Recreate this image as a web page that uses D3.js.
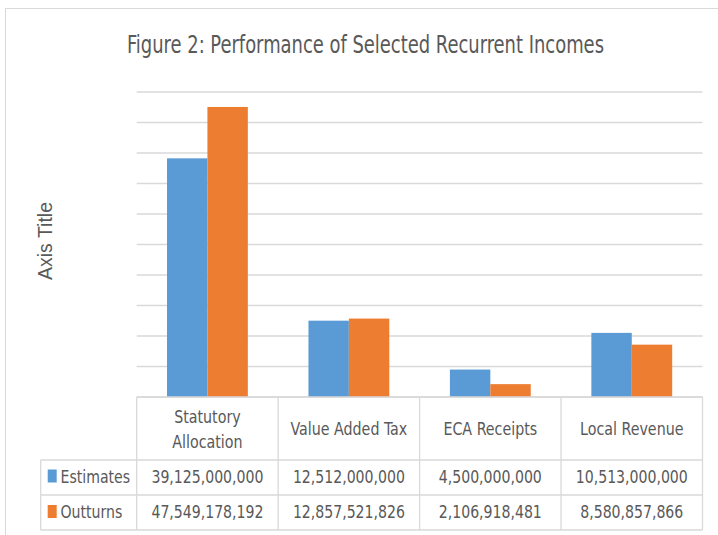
<!DOCTYPE html>
<html>

<head>
    <title>Figure 2</title>
    <script src="https://cdn.jsdelivr.net/npm/d3@7"></script>
    <style>
        body { margin: 0; background: white; }
        text { font-family: "DejaVu Sans Condensed", "DejaVu Sans", sans-serif; fill: #595959; }
    </style>
</head>

<body>
    <svg width="718" height="535" id="mainsvg"></svg>
    <script>
        const categories = ['Statutory Allocation', 'Value Added Tax', 'ECA Receipts', 'Local Revenue'];
        const series = ['Estimates', 'Outturns'];
        const estimates = [39125000000, 12512000000, 4500000000, 10513000000];
        const outturns = [47549178192, 12857521826, 2106918481, 8580857866];
        const yTicks = [0, 5e9, 10e9, 15e9, 20e9, 25e9, 30e9, 35e9, 40e9, 45e9, 50e9];

        const svg = d3.select('svg');
        const colors = d3.scaleOrdinal().domain(series).range(['#5b9bd5', '#ed7d31']);
        const values = { Estimates: estimates, Outturns: outturns };
        const fmt = d3.format(',');

        const plotLeft = 136.7, plotRight = 702.5, plotTop = 92, plotBase = 397;
        const rowLines = [397, 460, 495, 530];
        const legendLeft = 40.7;

        // squeeze text horizontally, the original font is a narrow one
        const condense = k => sel => sel.each(function () {
            this.setAttribute('textLength', this.getComputedTextLength() * k);
            this.setAttribute('lengthAdjust', 'spacingAndGlyphs');
        });

        // outer chart border
        svg.append('rect').attr('x', 5.5).attr('y', 8.5).attr('width', 730).attr('height', 540)
            .attr('fill', 'white').attr('stroke', '#d9d9d9');

        const x = d3.scaleBand().domain(categories).range([plotLeft, plotRight]).paddingInner(0);
        const xSub = d3.scaleBand().domain(series).range([0, x.bandwidth()]).paddingInner(0).paddingOuter(0.75);
        const y = d3.scaleLinear().domain([0, 50e9]).range([plotBase, plotTop]);

        // gridlines
        svg.selectAll('.grid').data(yTicks).join('line').attr('class', 'grid')
            .attr('x1', plotLeft).attr('x2', plotRight)
            .attr('y1', d => y(d)).attr('y2', d => y(d))
            .attr('stroke', '#d9d9d9').attr('stroke-width', 1.3);

        // bars
        const bars = [];
        categories.forEach((c, i) => series.forEach(s => bars.push({ cat: c, s: s, v: values[s][i] })));
        svg.selectAll('.bar').data(bars).join('rect').attr('class', 'bar')
            .attr('x', d => x(d.cat) + xSub(d.s))
            .attr('width', xSub.bandwidth())
            .attr('y', d => y(d.v))
            .attr('height', d => plotBase - y(d.v))
            .attr('fill', d => colors(d.s));

        // title
        svg.append('text').attr('x', 365.5).attr('y', 53).attr('text-anchor', 'middle')
            .attr('font-size', 24).text('Figure 2: Performance of Selected Recurrent Incomes')
            .call(condense(0.83));

        // axis title
        svg.append('text').attr('transform', 'translate(51.5,241) rotate(-90)')
            .attr('text-anchor', 'middle').attr('font-size', 19.5)
            .style('font-family', '"Liberation Sans", Arial, sans-serif')
            .text('Axis Title');

        // data table lines
        const g = svg.append('g').attr('stroke', '#d9d9d9').attr('stroke-width', 1.3);
        rowLines.forEach((ry, i) => {
            g.append('line').attr('x1', i === 0 ? plotLeft : legendLeft).attr('x2', plotRight)
                .attr('y1', ry).attr('y2', ry);
        });
        g.append('line').attr('x1', legendLeft).attr('x2', legendLeft).attr('y1', rowLines[1]).attr('y2', rowLines[3]);
        categories.concat(['end']).forEach((c, i) => {
            const vx = i < categories.length ? x(c) : plotRight;
            g.append('line').attr('x1', vx).attr('x2', vx).attr('y1', rowLines[0]).attr('y2', rowLines[3]);
        });

        // category header
        const headerLines = [];
        categories.forEach(c => {
            const parts = c === 'Statutory Allocation' ? ['Statutory', 'Allocation'] : [c];
            const y0 = parts.length === 2 ? 423 : 435;
            parts.forEach((p, k) => headerLines.push({ cat: c, text: p, y: y0 + k * 25 }));
        });
        svg.selectAll('.cat').data(headerLines).join('text').attr('class', 'cat')
            .attr('x', d => x(d.cat) + x.bandwidth() / 2).attr('y', d => d.y)
            .attr('text-anchor', 'middle').attr('font-size', 18)
            .text(d => d.text)
            .call(condense(0.88));

        // data rows
        series.forEach((s, r) => {
            const ty = r === 0 ? 482.5 : 518;
            svg.append('rect').attr('x', 47.7).attr('y', ty - 13).attr('width', 9).attr('height', 13)
                .attr('fill', colors(s));
            svg.append('text').attr('x', 60.5).attr('y', ty).attr('font-size', 18).text(s)
                .call(condense(0.87));
            svg.selectAll('.val' + r).data(categories).join('text').attr('class', 'val' + r)
                .attr('x', d => x(d) + x.bandwidth() / 2).attr('y', ty)
                .attr('text-anchor', 'middle').attr('font-size', 18)
                .text((d, i) => fmt(values[s][i]))
                .call(condense(0.87));
        });
    </script>
</body>

</html>
